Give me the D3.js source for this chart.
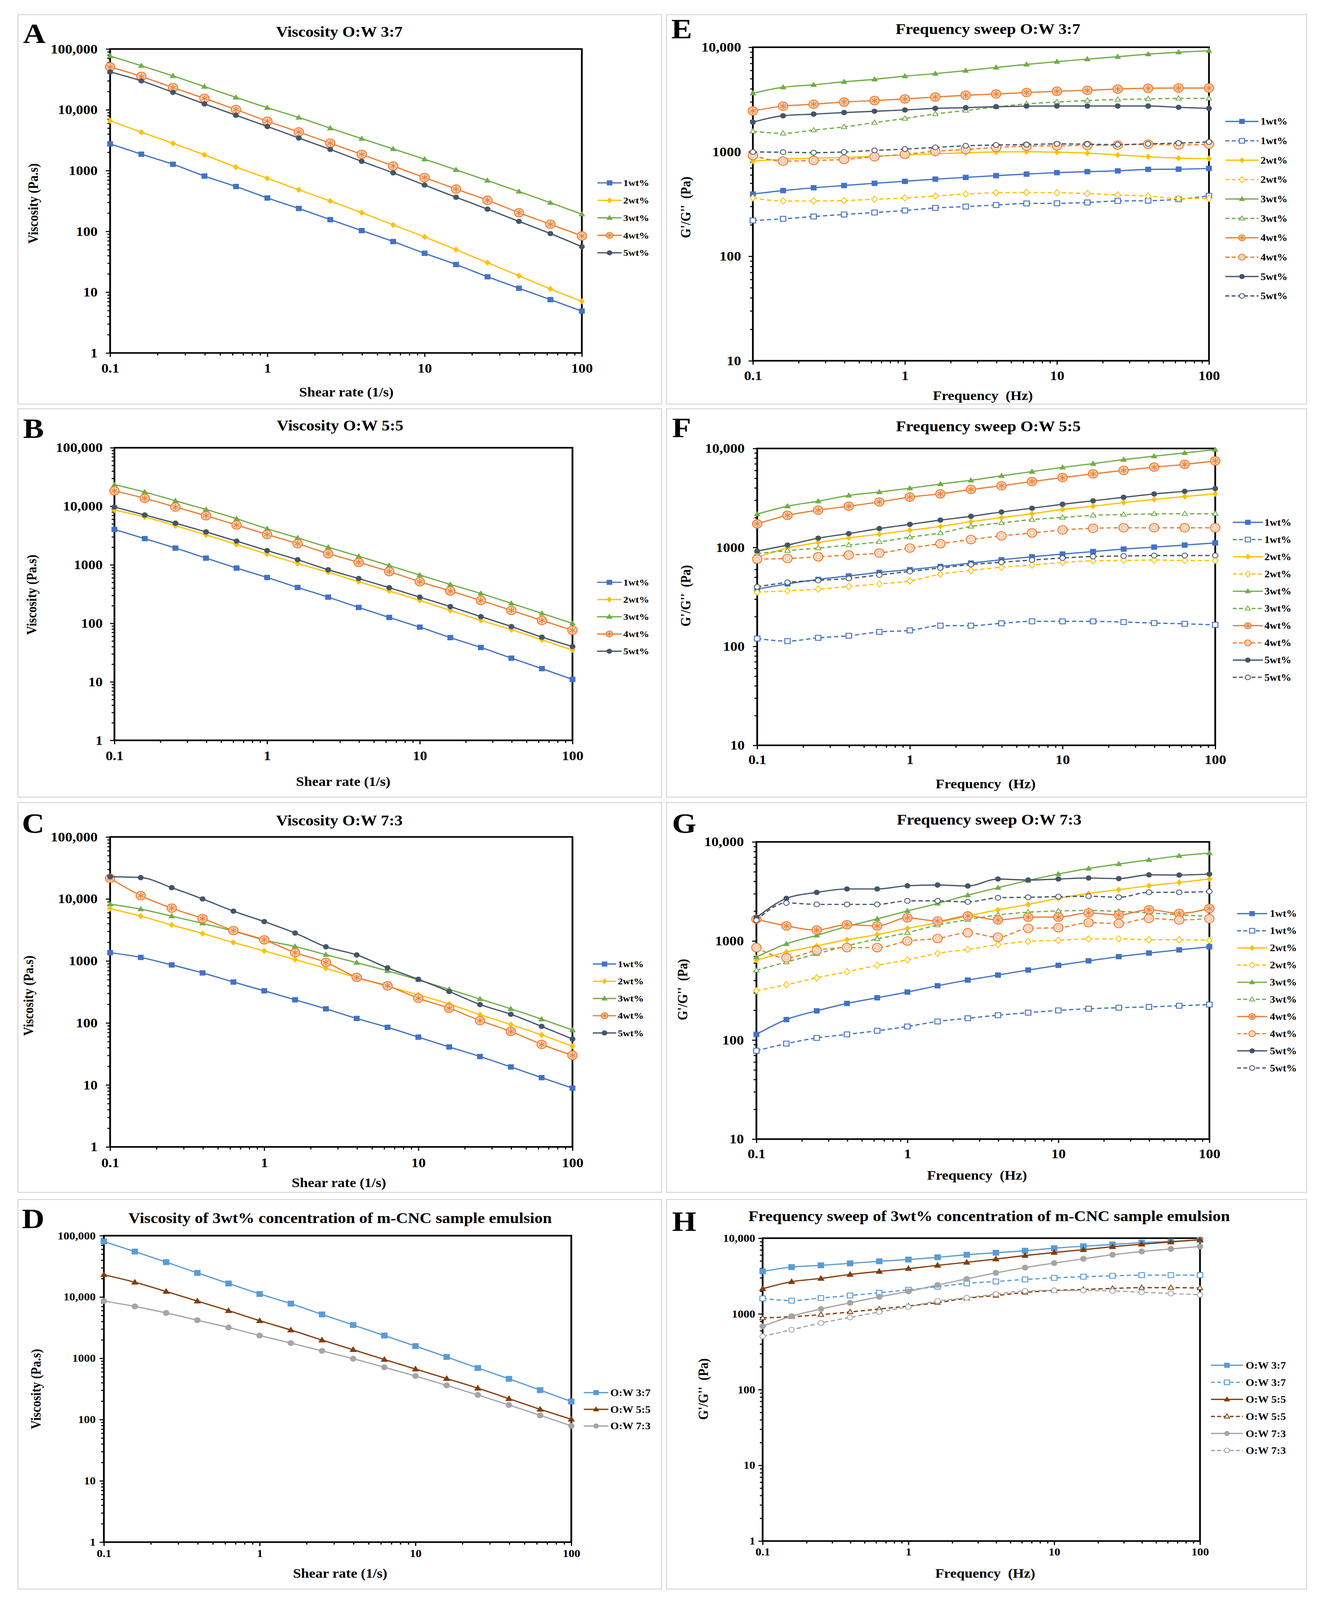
<!DOCTYPE html>
<html><head><meta charset="utf-8">
<script src="https://cdn.jsdelivr.net/npm/d3@7"></script>
<style>
html,body{margin:0;padding:0;background:#fff;overflow:hidden;width:100vw;height:100vh}
svg{display:block;width:100vw;height:100vh}
text{font-family:"Liberation Serif","Times New Roman",serif;font-weight:bold;fill:#000}
</style>
</head><body>
<svg id="c" viewBox="0 0 3388 4506" preserveAspectRatio="none"></svg>
<script>
// ---------------- DATA ----------------
const X = [0.1, 0.158, 0.251, 0.398, 0.631, 1, 1.585, 2.512, 3.981, 6.31, 10, 15.85, 25.12, 39.81, 63.1, 100];
const xMajorTicks = [0.1, 1, 10, 100];
const yMajorVisc = [1, 10, 100, 1000, 10000, 100000];
const yMajorMod = [10, 100, 1000, 10000];
const yMajorModH = [1, 10, 100, 1000, 10000];

// A: Viscosity O:W 3:7
const A_1wt = [2750, 1860, 1270, 812, 547, 354, 238, 156, 103, 68, 43.6, 28.5, 17.9, 11.6, 7.54, 4.88];
const A_2wt = [6600, 4280, 2800, 1810, 1140, 746, 483, 316, 203, 128, 81, 50, 30.5, 18.6, 11.3, 7.05];
const A_3wt = [76700, 53100, 36100, 24100, 16000, 10800, 7460, 4980, 3350, 2270, 1540, 1030, 686, 453, 296, 192];
const A_4wt = [50700, 35400, 23200, 15400, 10100, 6480, 4320, 2820, 1850, 1190, 767, 497, 325, 203, 131, 84];
const A_5wt = [42000, 29900, 19400, 12500, 8130, 5310, 3440, 2230, 1420, 918, 578, 364, 232, 146, 92, 56];
// B: Viscosity O:W 5:5
const B_1wt = [4020, 2800, 1930, 1300, 880, 607, 410, 280, 187, 126, 86, 57, 38.6, 25.4, 16.8, 11.0];
const B_2wt = [8630, 6560, 4660, 3240, 2230, 1520, 1050, 745, 514, 357, 246, 166, 112, 78, 52, 35];
const B_3wt = [23400, 17500, 12400, 8810, 6130, 4140, 2880, 1990, 1400, 971, 669, 461, 324, 219, 148, 100];
const B_4wt = [18400, 13700, 9710, 6890, 4790, 3300, 2300, 1550, 1100, 767, 514, 357, 246, 166, 112, 76];
const B_5wt = [9710, 7100, 5140, 3650, 2540, 1750, 1220, 822, 583, 406, 280, 193, 130, 88, 58, 40];
// C: Viscosity O:W 7:3
const C_1wt = [1360, 1140, 862, 641, 456, 330, 236, 169, 118, 85, 59, 41, 28.7, 19.5, 13.1, 8.87];
const C_2wt = [6970, 5280, 3790, 2770, 1980, 1450, 1050, 758, 538, 389, 284, 202, 136, 94, 64, 42];
const C_3wt = [8240, 6840, 5280, 4040, 3030, 2170, 1710, 1260, 937, 691, 495, 348, 243, 169, 115, 77];
const C_4wt = [21500, 11300, 7100, 4820, 3090, 2190, 1360, 946, 543, 397, 250, 173, 109, 73, 45, 30];
const C_5wt = [22800, 22100, 15200, 10000, 6350, 4310, 2820, 1690, 1250, 772, 505, 321, 198, 138, 88, 55];
// D: Viscosity of 3wt%
const D_37 = [80500, 55100, 37000, 24700, 16600, 11200, 7790, 5190, 3490, 2350, 1580, 1050, 693, 462, 302, 197];
const D_55 = [23100, 17400, 12300, 8570, 5980, 4100, 2890, 1980, 1380, 955, 667, 466, 325, 219, 147, 101];
const D_73 = [8570, 7020, 5490, 4180, 3180, 2350, 1770, 1320, 984, 713, 512, 361, 252, 173, 117, 79];
// E: Frequency sweep O:W 3:7 (G' solid, G'' dashed)
const E_1wt_G1 = [394, 425, 452, 475, 499, 521, 547, 568, 591, 611, 631, 645, 656, 678, 681, 692];
const E_1wt_G2 = [220, 228, 240, 251, 262, 274, 290, 299, 309, 320, 321, 327, 338, 340, 351, 379];
const E_2wt_G1 = [813, 849, 868, 882, 906, 931, 957, 978, 995, 1000, 990, 970, 931, 896, 868, 860];
const E_2wt_G2 = [361, 338, 338, 341, 351, 361, 377, 394, 405, 407, 405, 398, 385, 377, 357, 357];
const E_3wt_G1 = [3630, 4140, 4370, 4670, 4930, 5290, 5590, 5970, 6410, 6850, 7280, 7690, 8120, 8580, 8960, 9260];
const E_3wt_G2 = [1570, 1500, 1610, 1730, 1900, 2080, 2300, 2480, 2680, 2870, 2990, 3090, 3160, 3200, 3240, 3240];
const E_4wt_G1 = [2460, 2730, 2850, 2990, 3090, 3200, 3340, 3470, 3570, 3690, 3790, 3870, 3980, 4050, 4070, 4070];
const E_4wt_G2 = [920, 813, 826, 844, 896, 946, 1010, 1050, 1100, 1130, 1140, 1150, 1160, 1180, 1160, 1180];
const E_5wt_G1 = [1920, 2210, 2290, 2370, 2440, 2510, 2600, 2640, 2700, 2730, 2740, 2740, 2740, 2740, 2660, 2600];
const E_5wt_G2 = [995, 990, 980, 995, 1030, 1060, 1100, 1140, 1160, 1170, 1190, 1180, 1170, 1190, 1210, 1240];
// F: Frequency sweep O:W 5:5
const F_1wt_G1 = [379, 428, 475, 515, 559, 596, 642, 695, 750, 804, 857, 908, 962, 1008, 1056, 1110];
const F_1wt_G2 = [120, 113, 122, 128, 140, 145, 162, 162, 171, 179, 179, 179, 176, 172, 169, 165];
const F_2wt_G1 = [794, 985, 1120, 1250, 1360, 1490, 1630, 1820, 2000, 2190, 2420, 2610, 2840, 3050, 3270, 3480];
const F_2wt_G2 = [353, 364, 379, 403, 428, 458, 536, 585, 630, 664, 704, 733, 738, 746, 738, 738];
const F_3wt_G1 = [2170, 2610, 2930, 3350, 3630, 3960, 4370, 4770, 5290, 5840, 6440, 7030, 7710, 8360, 9020, 9720];
const F_3wt_G2 = [867, 929, 985, 1056, 1140, 1270, 1400, 1630, 1770, 1910, 2010, 2110, 2150, 2180, 2190, 2190];
const F_4wt_G1 = [1730, 2110, 2380, 2610, 2880, 3230, 3480, 3850, 4200, 4630, 5080, 5540, 6010, 6480, 6910, 7490];
const F_4wt_G2 = [763, 773, 804, 838, 877, 985, 1090, 1200, 1310, 1400, 1500, 1560, 1580, 1580, 1580, 1580];
const F_5wt_G1 = [918, 1056, 1240, 1380, 1550, 1710, 1890, 2060, 2280, 2490, 2730, 2960, 3210, 3470, 3690, 3940];
const F_5wt_G2 = [399, 443, 464, 486, 527, 572, 620, 672, 708, 746, 782, 810, 819, 828, 828, 828];
// G: Frequency sweep O:W 7:3
const G_1wt_G1 = [114, 161, 197, 234, 267, 305, 353, 403, 453, 509, 568, 630, 695, 755, 813, 873];
const G_1wt_G2 = [78, 92, 105, 114, 124, 137, 154, 166, 178, 189, 199, 207, 212, 216, 222, 228];
const G_2wt_G1 = [638, 773, 893, 1030, 1160, 1340, 1530, 1790, 2060, 2340, 2690, 3020, 3290, 3610, 3890, 4220];
const G_2wt_G2 = [315, 362, 425, 489, 568, 645, 750, 822, 918, 990, 1014, 1050, 1050, 1030, 1030, 1014];
const G_3wt_G1 = [687, 935, 1140, 1400, 1670, 2010, 2390, 2900, 3450, 4080, 4740, 5390, 5980, 6590, 7230, 7710];
const G_3wt_G2 = [506, 613, 741, 893, 1050, 1210, 1450, 1640, 1830, 1950, 2010, 2030, 1990, 1920, 1840, 1770];
const G_4wt_G1 = [1660, 1420, 1290, 1460, 1420, 1710, 1590, 1790, 1630, 1740, 1740, 1920, 1830, 2070, 1900, 2130];
const G_4wt_G2 = [857, 676, 804, 857, 857, 998, 1060, 1210, 1090, 1340, 1360, 1530, 1500, 1690, 1630, 1680];
const G_5wt_G1 = [1720, 2690, 3090, 3350, 3350, 3610, 3670, 3590, 4220, 4120, 4220, 4320, 4260, 4650, 4630, 4740];
const G_5wt_G2 = [1620, 2420, 2340, 2340, 2340, 2540, 2540, 2480, 2730, 2760, 2800, 2830, 2760, 3100, 3100, 3160];
// H: Frequency sweep of 3wt%
const H_37_G1 = [3640, 4150, 4380, 4650, 4950, 5220, 5590, 6040, 6420, 6820, 7370, 7830, 8260, 8720, 9060, 9480];
const H_37_G2 = [1600, 1500, 1620, 1750, 1900, 2080, 2290, 2530, 2680, 2850, 2990, 3100, 3180, 3250, 3250, 3250];
const H_55_G1 = [2150, 2660, 2940, 3320, 3640, 3960, 4380, 4800, 5300, 5900, 6470, 7040, 7710, 8320, 8920, 9550];
const H_55_G2 = [885, 919, 977, 1060, 1160, 1270, 1410, 1610, 1750, 1920, 2040, 2100, 2170, 2220, 2220, 2200];
const H_73_G1 = [687, 933, 1160, 1400, 1680, 1980, 2410, 2900, 3480, 4090, 4690, 5340, 6040, 6670, 7200, 7770];
const H_73_G2 = [506, 617, 759, 898, 1060, 1240, 1480, 1630, 1830, 2010, 2040, 2040, 2010, 1930, 1860, 1790];

// ---------------- STYLE ----------------
const COL = {b:'#4472C4', y:'#FFC000', g:'#70AD47', o:'#ED7D31', k:'#44546A', lb:'#5B9BD5', br:'#843C0C', gr:'#A5A5A5'};
const FONT = '"Liberation Serif","Times New Roman",serif';

function viscSeries(d1,d2,d3,d4,d5){
  return [
    {name:'1wt%', data:d1, c:COL.b, m:'sq'},
    {name:'2wt%', data:d2, c:COL.y, m:'di'},
    {name:'3wt%', data:d3, c:COL.g, m:'tr'},
    {name:'4wt%', data:d4, c:COL.o, m:'st'},
    {name:'5wt%', data:d5, c:COL.k, m:'ci'}
  ];
}
function modSeries(a1,a2,b1,b2,c1,c2,d1,d2,e1,e2){
  return [
    {name:'1wt%', data:a1, c:COL.b, m:'sq'}, {name:'1wt%', data:a2, c:COL.b, m:'sqo', dash:true},
    {name:'2wt%', data:b1, c:COL.y, m:'di'}, {name:'2wt%', data:b2, c:COL.y, m:'dio', dash:true},
    {name:'3wt%', data:c1, c:COL.g, m:'tr'}, {name:'3wt%', data:c2, c:COL.g, m:'tro', dash:true},
    {name:'4wt%', data:d1, c:COL.o, m:'st'}, {name:'4wt%', data:d2, c:COL.o, m:'sto', dash:true},
    {name:'5wt%', data:e1, c:COL.k, m:'ci'}, {name:'5wt%', data:e2, c:COL.k, m:'cio', dash:true}
  ];
}

const panels = [
 {letter:'A', lp:[59,121], frame:[46,41,1694,1138], L:282,R:1490,T:138,B:994, yMaj:yMajorVisc,
  title:'Viscosity O:W 3:7', tp:[869,103], xBase:1049, yPad:32, fs:37,
  xt:'Shear rate (1/s)', xtp:[887,1117], yt:'Viscosity (Pa.s)', ytp:[97,573],
  leg:{x1:1530,x2:1592,tx:1596,y0:515,dy:49.25,fs:26}, series:viscSeries(A_1wt,A_2wt,A_3wt,A_4wt,A_5wt)},
 {letter:'B', lp:[59,1233], frame:[46,1151,1694,2245], L:293,R:1466,T:1261,B:2085, yMaj:yMajorVisc,
  title:'Viscosity O:W 5:5', tp:[871,1212], xBase:2141, yPad:30, fs:37,
  xt:'Shear rate (1/s)', xtp:[879,2213], yt:'Viscosity (Pa.s)', ytp:[93,1675],
  leg:{x1:1529,x2:1592,tx:1596,y0:1640,dy:48.5,fs:26}, series:viscSeries(B_1wt,B_2wt,B_3wt,B_4wt,B_5wt)},
 {letter:'C', lp:[56,2345], frame:[46,2260,1694,3358], L:282,R:1466,T:2357,B:3230, yMaj:yMajorVisc,
  title:'Viscosity O:W 7:3', tp:[869,2324], xBase:3287, yPad:32, fs:37,
  xt:'Shear rate (1/s)', xtp:[868,3343], yt:'Viscosity (Pa.s)', ytp:[85,2804],
  leg:{x1:1518,x2:1578,tx:1582,y0:2715,dy:48.5,fs:26}, series:viscSeries(C_1wt,C_2wt,C_3wt,C_4wt,C_5wt)},
 {letter:'D', lp:[56,3459], frame:[46,3378,1694,4475], L:266,R:1463,T:3480,B:4343, yMaj:yMajorVisc,
  title:'Viscosity of 3wt% concentration of m-CNC sample emulsion', tp:[871,3444], xBase:4385, yPad:21, fs:30,
  xt:'Shear rate (1/s)', xtp:[871,4443], yt:'Viscosity (Pa.s)', ytp:[104,3912],
  leg:{x1:1495,x2:1558,tx:1563,y0:3922,dy:47,fs:28},
  series:[{name:'O:W 3:7', data:D_37, c:COL.lb, m:'sq', big:true},
          {name:'O:W 5:5', data:D_55, c:COL.br, m:'tr', big:true},
          {name:'O:W 7:3', data:D_73, c:COL.gr, m:'ci', big:true}]},
 {letter:'E', lp:[1719,108], frame:[1707,41,3346,1138], L:1928,R:3096,T:133,B:1016, yMaj:yMajorMod,
  title:'Frequency sweep O:W 3:7', tp:[2530,96], xBase:1070, yPad:30, fs:37,
  xt:'Frequency  (Hz)', xtp:[2517,1126], yt:"G'/G''  (Pa)", ytp:[1768,584],
  leg:{x1:3138,x2:3223,tx:3228,y0:342,dy:54.6,fs:27},
  series:modSeries(E_1wt_G1,E_1wt_G2,E_2wt_G1,E_2wt_G2,E_3wt_G1,E_3wt_G2,E_4wt_G1,E_4wt_G2,E_5wt_G1,E_5wt_G2)},
 {letter:'F', lp:[1721,1231], frame:[1707,1151,3346,2245], L:1939,R:3112,T:1263,B:2099, yMaj:yMajorMod,
  title:'Frequency sweep O:W 5:5', tp:[2531,1215], xBase:2152, yPad:32, fs:37,
  xt:'Frequency  (Hz)', xtp:[2524,2220], yt:"G'/G''  (Pa)", ytp:[1768,1678],
  leg:{x1:3157,x2:3234,tx:3238,y0:1471,dy:48.5,fs:27},
  series:modSeries(F_1wt_G1,F_1wt_G2,F_2wt_G1,F_2wt_G2,F_3wt_G1,F_3wt_G2,F_4wt_G1,F_4wt_G2,F_5wt_G1,F_5wt_G2)},
 {letter:'G', lp:[1721,2345], frame:[1707,2260,3346,3358], L:1937,R:3097,T:2371,B:3208, yMaj:yMajorMod,
  title:'Frequency sweep O:W 7:3', tp:[2533,2322], xBase:3262, yPad:32, fs:37,
  xt:'Frequency  (Hz)', xtp:[2502,3322], yt:"G'/G''  (Pa)", ytp:[1760,2787],
  leg:{x1:3168,x2:3245,tx:3252,y0:2573,dy:48.3,fs:27},
  series:modSeries(G_1wt_G1,G_1wt_G2,G_2wt_G1,G_2wt_G2,G_3wt_G1,G_3wt_G2,G_4wt_G1,G_4wt_G2,G_5wt_G1,G_5wt_G2)},
 {letter:'H', lp:[1721,3466], frame:[1707,3378,3346,4475], L:1953,R:3073,T:3487,B:4340, yMaj:yMajorModH,
  title:'Frequency sweep of 3wt% concentration of m-CNC sample emulsion', tp:[2533,3439], xBase:4381, yPad:19, fs:30,
  xt:'Frequency  (Hz)', xtp:[2523,4443], yt:"G'/G''  (Pa)", ytp:[1813,3912],
  leg:{x1:3101,x2:3183,tx:3190,y0:3845,dy:48,fs:28},
  series:[{name:'O:W 3:7', data:H_37_G1, c:COL.lb, m:'sq', big:true}, {name:'O:W 3:7', data:H_37_G2, c:COL.lb, m:'sqo', dash:true},
          {name:'O:W 5:5', data:H_55_G1, c:COL.br, m:'tr', big:true}, {name:'O:W 5:5', data:H_55_G2, c:COL.br, m:'tro', dash:true},
          {name:'O:W 7:3', data:H_73_G1, c:COL.gr, m:'ci', big:true}, {name:'O:W 7:3', data:H_73_G2, c:COL.gr, m:'cio', dash:true}]}
];

// ---------------- DRAW ----------------
const svg = d3.select('#c');
svg.append('rect').attr('width',3388).attr('height',4506).attr('fill','#fff');

function marker(g, t, cx, cy, c, k){
  k = k || 1;
  const m = g.append('g').attr('transform', `translate(${cx},${cy})`);
  if (t==='sq'){ const s=15*k; m.append('rect').attr('x',-s/2).attr('y',-s/2).attr('width',s).attr('height',s).attr('fill',c); }
  else if (t==='sqo'){ const s=14*k; m.append('rect').attr('x',-s/2).attr('y',-s/2).attr('width',s).attr('height',s).attr('fill','#fff').attr('stroke',c).attr('stroke-width',2.5); }
  else if (t==='di'){ const s=9*k; m.append('path').attr('d',`M0,${-s}L${s*0.8},0L0,${s}L${-s*0.8},0Z`).attr('fill',c); }
  else if (t==='dio'){ const s=9*k; m.append('path').attr('d',`M0,${-s}L${s*0.8},0L0,${s}L${-s*0.8},0Z`).attr('fill','#fff').attr('stroke',c).attr('stroke-width',2.2); }
  else if (t==='tr'){ const s=17*k, h=s*0.87; m.append('path').attr('d',`M0,${-h*0.6}L${s/2},${h*0.4}L${-s/2},${h*0.4}Z`).attr('fill',c); }
  else if (t==='tro'){ const s=14*k, h=s*0.87; m.append('path').attr('d',`M0,${-h*0.6}L${s/2},${h*0.4}L${-s/2},${h*0.4}Z`).attr('fill','#fff').attr('stroke',c).attr('stroke-width',2.2); }
  else if (t==='ci'){ m.append('circle').attr('r',7.5*k).attr('fill',c); }
  else if (t==='cio'){ m.append('circle').attr('r',7*k).attr('fill','#fff').attr('stroke',c).attr('stroke-width',2.2); }
  else if (t==='st'){
    const r=12*k;
    m.append('circle').attr('r',r).attr('fill','#F8CBAD').attr('stroke',c).attr('stroke-width',2.5);
    for (let a=0;a<3;a++){
      const ang=a*Math.PI/3+Math.PI/2, rr=r*0.7;
      m.append('line').attr('x1',Math.cos(ang)*rr).attr('y1',Math.sin(ang)*rr).attr('x2',-Math.cos(ang)*rr).attr('y2',-Math.sin(ang)*rr).attr('stroke',c).attr('stroke-width',2.2);
    }
  }
  else if (t==='sto'){
    const r=12*k;
    m.append('circle').attr('r',r).attr('fill','#FBE0CF').attr('stroke',c).attr('stroke-width',2.5);
    m.append('circle').attr('r',r*0.5).attr('fill','none').attr('stroke','#F4B183').attr('stroke-width',1.5);
  }
}

function styleAxis(ax, fs){
  ax.select('.domain').remove();
  ax.selectAll('.tick line').attr('stroke','#000').attr('stroke-width',3);
  ax.selectAll('text').attr('font-family',FONT).attr('font-weight','bold').attr('font-size',fs).attr('fill','#000');
  ax.attr('font-family',FONT).attr('font-size',fs);
}

function minorOf(majors){
  const out=[];
  for (let i=0;i<majors.length-1;i++) for (let m=2;m<=9;m++) out.push(+(m*majors[i]).toPrecision(6));
  return out;
}
const fmtY = d => d >= 10000 ? d3.format(',')(d) : String(d);
const fmtX = d => String(d);

panels.forEach(p => {
  const g = svg.append('g');
  const [fx1,fy1,fx2,fy2] = p.frame;
  g.append('rect').attr('x',fx1).attr('y',fy1).attr('width',fx2-fx1).attr('height',fy2-fy1)
    .attr('fill','#fff').attr('stroke','#D9D9D9').attr('stroke-width',3);

  const x = d3.scaleLog().domain([0.1,100]).range([p.L,p.R]);
  const y = d3.scaleLog().domain([p.yMaj[0], p.yMaj[p.yMaj.length-1]]).range([p.B,p.T]);

  const MAJ=11, MIN=7;
  const xm = g.append('g').attr('transform',`translate(0,${p.B})`)
    .call(d3.axisBottom(x).tickValues(minorOf(xMajorTicks)).tickSize(MIN).tickFormat(''));
  styleAxis(xm, p.fs);
  const xM = g.append('g').attr('transform',`translate(0,${p.B})`)
    .call(d3.axisBottom(x).tickValues(xMajorTicks).tickSize(MAJ).tickPadding(p.xBase - p.B - MAJ - 0.71*p.fs).tickFormat(fmtX));
  styleAxis(xM, p.fs);
  const ym = g.append('g').attr('transform',`translate(${p.L},0)`)
    .call(d3.axisLeft(y).tickValues(minorOf(p.yMaj)).tickSize(MIN).tickFormat(''));
  styleAxis(ym, p.fs);
  const yM = g.append('g').attr('transform',`translate(${p.L},0)`)
    .call(d3.axisLeft(y).tickValues(p.yMaj).tickSize(MAJ).tickPadding(p.yPad - MAJ).tickFormat(fmtY));
  styleAxis(yM, p.fs);

  g.append('rect').attr('x',p.L).attr('y',p.T).attr('width',p.R-p.L).attr('height',p.B-p.T)
    .attr('fill','none').attr('stroke','#000').attr('stroke-width',4.5);

  const line = d3.line().x(d=>x(d[0])).y(d=>y(d[1])).curve(d3.curveMonotoneX);
  p.series.forEach(s => {
    const pts = d3.zip(X, s.data);
    g.append('path').datum(pts).attr('d',line).attr('fill','none').attr('stroke',s.c)
      .attr('stroke-width',3.5).attr('stroke-dasharray', s.dash ? '11,7' : null);
    const mg = g.append('g');
    pts.forEach(d => marker(mg, s.m, x(d[0]), y(d[1]), s.c, s.big ? 1.1 : 1));
  });

  const lg = g.append('g');
  p.series.forEach((s,i) => {
    const yy = p.leg.y0 + i*p.leg.dy;
    lg.append('line').attr('x1',p.leg.x1).attr('x2',p.leg.x2).attr('y1',yy).attr('y2',yy)
      .attr('stroke',s.c).attr('stroke-width',3.5).attr('stroke-dasharray', s.dash ? '10,6' : null);
    marker(lg, s.m, (p.leg.x1+p.leg.x2)/2, yy, s.c, (s.m==='st'||s.m==='sto') ? 0.7 : 0.95);
    lg.append('text').attr('x',p.leg.tx).attr('y',yy).attr('dy','0.35em').attr('font-size',p.leg.fs).text(s.name);
  });

  g.append('text').attr('x',p.lp[0]).attr('y',p.lp[1]).attr('font-size',80).text(p.letter);
  g.append('text').attr('x',p.tp[0]).attr('y',p.tp[1]).attr('text-anchor','middle').attr('font-size',42).text(p.title);
  g.append('text').attr('x',p.xtp[0]).attr('y',p.xtp[1]).attr('text-anchor','middle').attr('font-size',37)
    .style('white-space','pre').text(p.xt);
  g.append('text').attr('transform',`translate(${p.ytp[0]},${p.ytp[1]}) rotate(-90)`).attr('text-anchor','middle')
    .attr('font-size',35).style('white-space','pre').text(p.yt);
});
</script>
</body></html>
